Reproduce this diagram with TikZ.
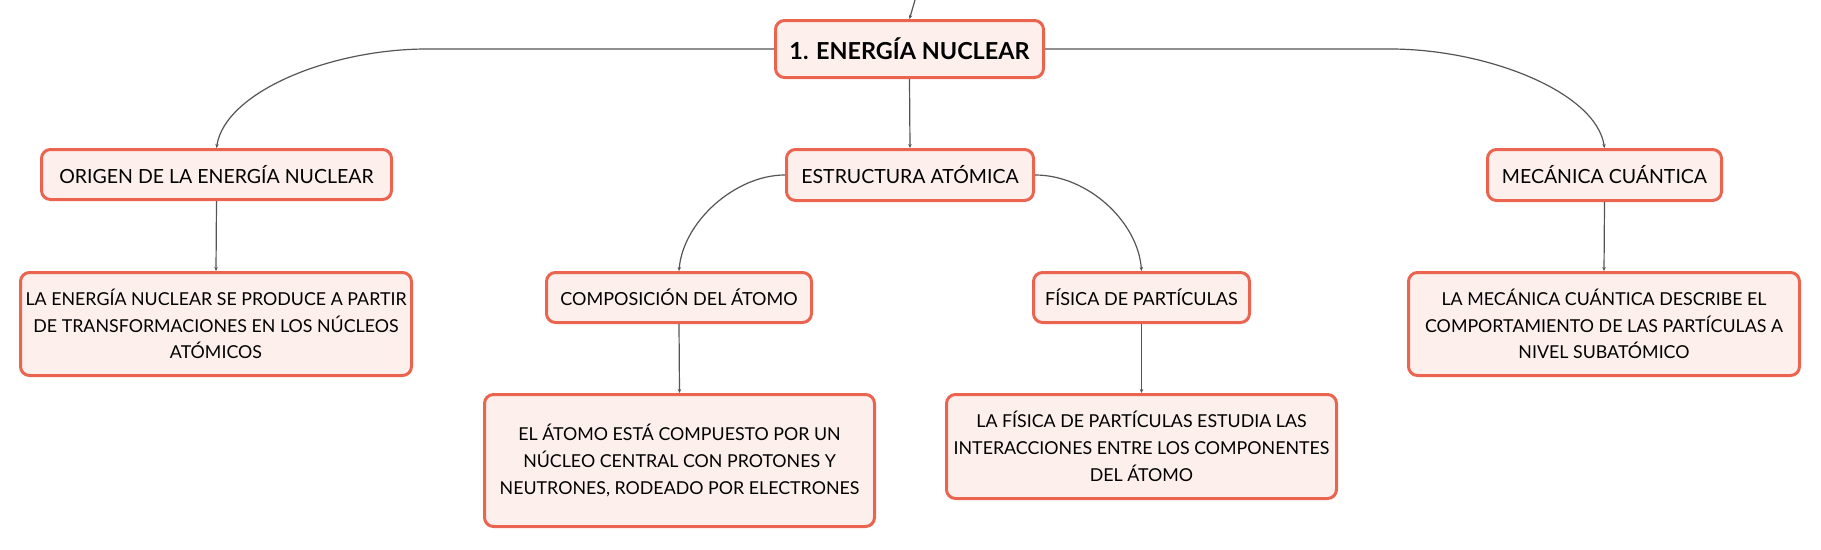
\documentclass[tikz,border=0pt]{standalone}
\usepackage{fontspec}
\setmainfont{Lato}
\usetikzlibrary{arrows.meta}
\definecolor{boxline}{HTML}{EA6450}
\definecolor{boxfill}{HTML}{FDF0EC}
\definecolor{connc}{HTML}{555555}
\begin{document}
\begin{tikzpicture}[x=1pt,y=-1pt,
  bx/.style={draw=boxline, fill=boxfill, line width=3pt, rounded corners=9pt,
    inner sep=0pt, align=center, font=\fontsize{19.5}{26}\selectfont},
  bxs/.style={bx, font=\fontsize{18}{26}\selectfont},
  bxt/.style={bx, font=\fontsize{17.8}{26.7}\selectfont},
  conn/.style={draw=connc, line width=1.2pt, -{Stealth[length=4pt,width=3.5pt]}}]
\useasboundingbox (0,0) rectangle (1821,549);
\fill[white] (0,0) rectangle (1821,549);
% nodes
\node[bx, minimum width=268pt, minimum height=57pt, font=\fontsize{23.4}{28}\selectfont\bfseries] (main) at (909.5,49) {1. ENERGÍA NUCLEAR};
\node[bx, minimum width=350pt, minimum height=50pt] (orig) at (216.5,174.5) {ORIGEN DE LA ENERGÍA NUCLEAR};
\node[bx, minimum width=247pt, minimum height=51pt] (estr) at (910,175) {ESTRUCTURA ATÓMICA};
\node[bx, minimum width=234pt, minimum height=51pt] (mec) at (1604.5,175) {MECÁNICA CUÁNTICA};
\node[bxs, minimum width=265pt, minimum height=50pt] (comp) at (679,297.5) {COMPOSICIÓN DEL ÁTOMO};
\node[bxs, minimum width=216pt, minimum height=50pt] (fis) at (1141.5,297.5) {FÍSICA DE PARTÍCULAS};
\node[bxt, minimum width=391pt, minimum height=103pt] (origt) at (216,324) {LA ENERGÍA NUCLEAR SE PRODUCE A PARTIR\\DE TRANSFORMACIONES EN LOS NÚCLEOS\\ATÓMICOS};
\node[bxt, minimum width=390pt, minimum height=132pt] (compt) at (679.5,460.5) {EL ÁTOMO ESTÁ COMPUESTO POR UN\\NÚCLEO CENTRAL CON PROTONES Y\\NEUTRONES, RODEADO POR ELECTRONES};
\node[bxt, minimum width=390pt, minimum height=104pt] (fist) at (1141.5,446.5) {LA FÍSICA DE PARTÍCULAS ESTUDIA LAS\\INTERACCIONES ENTRE LOS COMPONENTES\\DEL ÁTOMO};
\node[bxt, minimum width=391pt, minimum height=103pt] (mect) at (1604,324) {LA MECÁNICA CUÁNTICA DESCRIBE EL\\COMPORTAMIENTO DE LAS PARTÍCULAS A\\NIVEL SUBATÓMICO};
% coordinates
\coordinate (topin) at (915,0);
\coordinate (lbend) at (427,49);
\coordinate (rbend) at (1390,49);
% connectors
\draw[conn] (topin) -- (main.north);
\draw[conn] (main.west) -- (lbend) .. controls (330,49) and (225,92) .. (orig.north);
\draw[conn] (main.east) -- (rbend) .. controls (1487,49) and (1596,92) .. (mec.north);
\draw[conn] (main.south) -- (estr.north);
\draw[conn] (estr.west) .. controls (735,175) and (683,222) .. (comp.north);
\draw[conn] (estr.east) .. controls (1088,175) and (1138,222) .. (fis.north);
\draw[conn] (orig.south) -- (origt.north);
\draw[conn] (comp.south) -- (compt.north);
\draw[conn] (fis.south) -- (fist.north);
\draw[conn] (mec.south) -- (mect.north);
\end{tikzpicture}
\end{document}
